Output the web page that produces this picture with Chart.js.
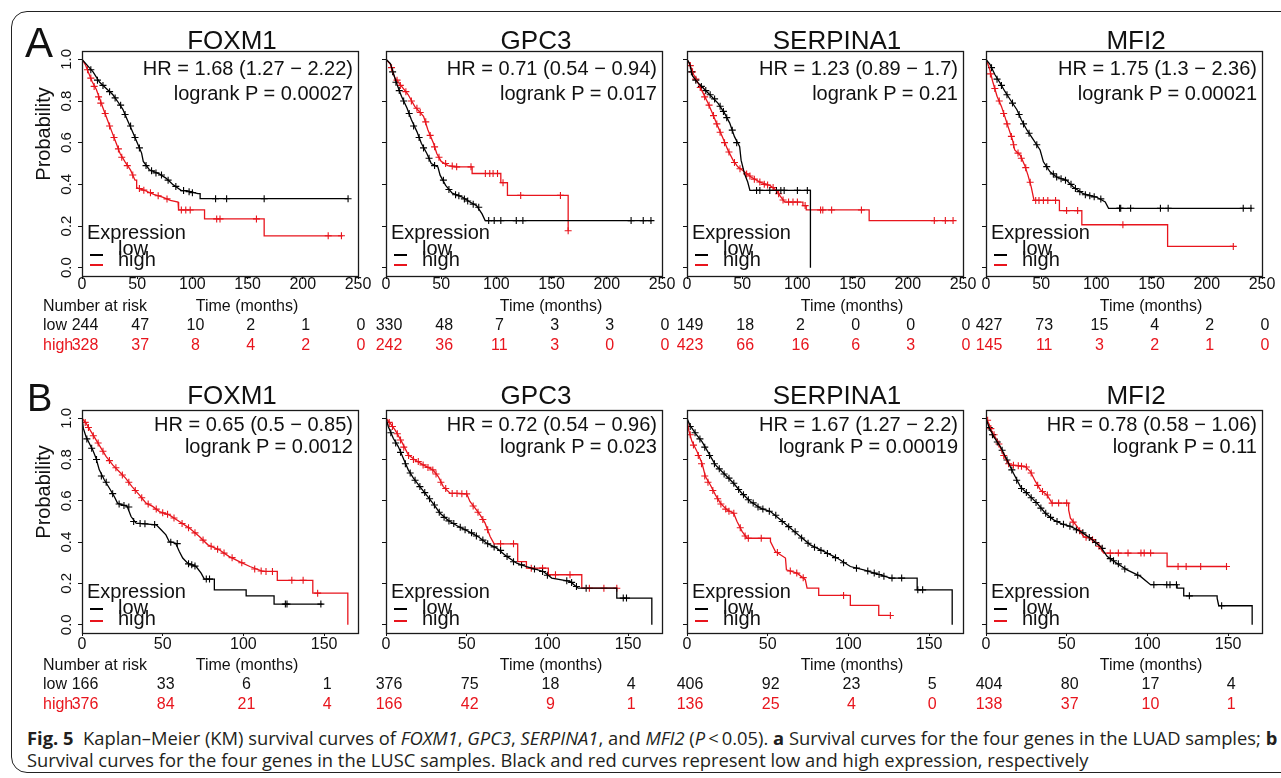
<!DOCTYPE html>
<html>
<head>
<meta charset="utf-8">
<script src="https://cdn.jsdelivr.net/npm/chart.js@4.4.0/dist/chart.umd.min.js"></script>
<style>
  body { margin: 0; background: #fff; }
  #fig { position: relative; width: 1281px; height: 778px; overflow: hidden;
         font-family: "Liberation Sans", Arial, sans-serif; color: #111; }
  #frame { position: absolute; left: 11px; top: 11px; width: 1320px; height: 762px;
           border: 1px solid #222; border-radius: 16px; box-sizing: border-box; }
  canvas { position: absolute; }
  .t { position: absolute; white-space: nowrap; line-height: 1; }
  #caption { position: absolute; left: 27px; top: 727px; font-family: "Open Sans", sans-serif;
             font-size: 18.35px; line-height: 22px; color: #231f20; white-space: nowrap; }
</style>
</head>
<body>
<div id="fig"><div id="frame"></div></div>
<script>
// ---- data: [time (months), survival probability] ----
// panel A (LUAD)
const aFoxm1Low = [[0,1],[10,0.94],[16,0.89],[22,0.86],[28,0.83],[32,0.80],[37,0.76],[41,0.71],[46,0.65],[50,0.60],[54,0.55],[55.5,0.51],[61,0.47],[70,0.45],[76,0.43],[82,0.40],[90,0.37],[95,0.37],[105,0.355],[107,0.355],[107,0.331],[241,0.331]];
const aFoxm1LowCens = [[8,0.95],[14,0.90],[19,0.875],[25,0.845],[30,0.815],[35,0.78],[39,0.735],[44,0.68],[48,0.625],[52,0.575],[58,0.49],[63,0.465],[67,0.455],[72,0.445],[78,0.42],[85,0.39],[92,0.37],[97,0.365],[100,0.36],[121,0.331],[131,0.331],[165,0.331],[241,0.331]];
const aFoxm1High = [[0,1],[3,0.975],[9,0.895],[13,0.855],[19,0.766],[23,0.71],[27,0.653],[31,0.597],[34.5,0.548],[39,0.508],[44,0.468],[48,0.42],[49.5,0.42],[49.5,0.384],[58,0.368],[65,0.352],[73,0.339],[80,0.323],[87,0.315],[87.5,0.277],[111,0.277],[111,0.234],[165,0.234],[165,0.153],[236,0.153]];
const aFoxm1HighCens = [[5,0.95],[8,0.91],[11,0.87],[15,0.82],[17,0.79],[21,0.74],[25,0.68],[29,0.625],[33,0.57],[36,0.53],[41,0.49],[46,0.445],[52,0.38],[56,0.372],[62,0.36],[69,0.345],[77,0.33],[90,0.277],[94,0.277],[98,0.277],[122,0.234],[125,0.234],[158,0.234],[223,0.153],[235,0.153]];

const aGpc3Low = [[0,1],[4,0.98],[7,0.927],[10,0.879],[14,0.823],[19,0.766],[23,0.71],[28,0.653],[32,0.597],[37,0.548],[41,0.5],[47,0.484],[49,0.444],[54,0.395],[60,0.358],[69,0.339],[76,0.315],[82,0.298],[87,0.258],[89.8,0.226],[241,0.226]];
const aGpc3LowCens = [[6,0.94],[9,0.89],[12,0.85],[16,0.8],[21,0.74],[25,0.68],[30,0.625],[34,0.575],[39,0.525],[44,0.49],[52,0.42],[57,0.375],[63,0.35],[66,0.345],[71,0.33],[74,0.32],[79,0.305],[84,0.29],[93,0.226],[98,0.226],[104,0.226],[118,0.226],[124,0.226],[222,0.226],[233,0.226],[240,0.226]];
const aGpc3High = [[0,1],[4,0.976],[8,0.911],[14,0.871],[20,0.831],[26,0.774],[34,0.726],[38,0.661],[43,0.597],[46,0.548],[50,0.51],[56,0.49],[63,0.484],[78,0.484],[78,0.452],[104,0.452],[104,0.408],[110,0.408],[110,0.347],[165,0.347],[165,0.177]];
const aGpc3HighCens = [[5,0.96],[10,0.9],[13,0.875],[18,0.845],[23,0.8],[28,0.765],[31,0.745],[36,0.7],[40,0.635],[44,0.58],[48,0.53],[54,0.5],[60,0.488],[64,0.484],[77,0.484],[90,0.452],[94,0.452],[97,0.452],[101,0.452],[106,0.408],[122,0.347],[158,0.347],[165,0.177]];

const aSerpLow = [[0,1],[2.4,0.98],[5,0.92],[10,0.887],[16,0.855],[22,0.823],[28,0.79],[34,0.742],[38.7,0.694],[43,0.629],[47.7,0.581],[49,0.516],[52,0.452],[55,0.411],[57,0.371],[111.8,0.371],[111.8,0]];
const aSerpLowCens = [[4,0.94],[8,0.9],[13,0.87],[17,0.85],[21,0.83],[25,0.81],[30,0.775],[33,0.75],[36,0.72],[41,0.66],[45,0.6],[63,0.371],[66,0.371],[75,0.371],[81,0.371],[85,0.371],[88,0.371],[100,0.371],[109,0.371]];
const aSerpHigh = [[0,1],[2.4,0.976],[6,0.927],[10,0.887],[14.5,0.839],[19,0.79],[23.6,0.734],[28,0.677],[32.6,0.621],[37,0.565],[41.7,0.516],[46,0.484],[52,0.46],[58,0.435],[66,0.411],[75,0.395],[81,0.371],[84,0.347],[88.5,0.315],[105,0.315],[105,0.298],[108,0.298],[108,0.277],[165,0.277],[165,0.226],[241,0.226]];
const aSerpHighCens = [[3,0.97],[5,0.94],[8,0.905],[12,0.865],[16,0.82],[20,0.78],[24,0.73],[27,0.69],[30,0.65],[34,0.6],[38,0.555],[43,0.505],[48,0.475],[54,0.45],[57,0.44],[61,0.425],[66,0.411],[70,0.40],[73,0.397],[78,0.385],[83,0.355],[87,0.325],[92,0.315],[96,0.315],[100,0.315],[107,0.298],[121,0.277],[123,0.277],[131,0.277],[158,0.277],[224,0.226],[234,0.226],[241,0.226]];

const aMfi2Low = [[0,1],[3.6,0.976],[8,0.927],[12.7,0.887],[17,0.847],[22,0.806],[28,0.758],[32,0.71],[37,0.661],[43,0.613],[49,0.565],[52,0.508],[58,0.46],[64,0.435],[73,0.419],[79,0.387],[88,0.355],[100,0.339],[108,0.315],[111,0.285],[241,0.285]];
const aMfi2LowCens = [[5,0.96],[10,0.905],[14,0.875],[19,0.83],[24,0.79],[30,0.735],[34,0.69],[39,0.645],[46,0.59],[55,0.485],[61,0.45],[64,0.435],[68,0.427],[72,0.42],[77,0.40],[81,0.38],[85,0.365],[90,0.35],[94,0.345],[98,0.34],[104,0.33],[121,0.285],[122,0.285],[131,0.285],[158,0.285],[165,0.285],[233,0.285],[240,0.285]];
const aMfi2High = [[0,1],[3,0.96],[6,0.895],[10,0.823],[14,0.774],[17,0.726],[20,0.677],[24,0.613],[26,0.565],[31,0.54],[35,0.492],[38,0.444],[41,0.387],[43.5,0.323],[66.5,0.323],[66.5,0.274],[86.8,0.274],[86.8,0.206],[164.5,0.206],[164.5,0.102],[224,0.102]];
const aMfi2HighCens = [[4,0.93],[8,0.86],[12,0.8],[16,0.74],[19,0.69],[23,0.63],[25,0.59],[29,0.55],[32,0.525],[36,0.48],[40,0.41],[45,0.323],[48,0.323],[52,0.323],[56,0.323],[63,0.323],[73,0.274],[83,0.274],[124,0.206],[224,0.102]];

// panel B (LUSC)
const bFoxm1Low = [[0,1],[0.8,0.952],[2.5,0.911],[4.5,0.879],[6.6,0.847],[8.7,0.806],[10.7,0.75],[13.8,0.702],[17,0.661],[20,0.621],[22,0.589],[28,0.573],[30.4,0.524],[33.5,0.492],[46,0.484],[49,0.46],[52,0.435],[54,0.403],[58,0.395],[60.3,0.355],[62.4,0.323],[65.5,0.298],[70.7,0.282],[73.8,0.25],[75.8,0.221],[82,0.221],[82,0.169],[101.7,0.169],[101.7,0.14],[119,0.14],[119,0.1],[149,0.1]];
const bFoxm1LowCens = [[3,0.9],[6,0.855],[9,0.8],[12,0.72],[15,0.69],[19,0.635],[23,0.585],[26,0.578],[29,0.57],[32,0.5],[36,0.49],[39,0.489],[45,0.485],[55,0.4],[59,0.393],[66,0.295],[68,0.29],[70,0.284],[77,0.221],[79,0.221],[126,0.1],[127,0.1],[148,0.1]];
const bFoxm1High = [[0,1],[2.5,0.976],[5.6,0.935],[8.7,0.895],[11.8,0.855],[14.9,0.815],[19,0.774],[23,0.742],[27,0.71],[31,0.669],[35.5,0.629],[39.7,0.589],[43.8,0.573],[48,0.548],[54,0.532],[60.3,0.5],[66.5,0.468],[72.7,0.427],[78,0.387],[85,0.363],[91,0.331],[97.5,0.306],[104,0.282],[112,0.258],[121,0.258],[121,0.215],[143,0.215],[143,0.153],[164.7,0.153],[164.7,0]];
const bFoxm1HighCens = [[2,0.98],[4,0.955],[7,0.915],[10,0.88],[13,0.84],[17,0.795],[21,0.76],[25,0.725],[29,0.69],[33,0.65],[37,0.615],[41,0.585],[46,0.56],[50,0.542],[53,0.535],[57,0.517],[62,0.49],[66,0.47],[70,0.445],[75,0.41],[80,0.38],[84,0.366],[88,0.347],[93,0.325],[99,0.3],[107,0.27],[111,0.26],[114,0.258],[118,0.258],[130,0.215],[137,0.215],[146,0.153]];

const bGpc3Low = [[0,1],[1.4,0.96],[4.5,0.903],[7.6,0.863],[10.7,0.806],[13.8,0.75],[17,0.71],[21,0.669],[25,0.629],[29,0.589],[33.5,0.54],[38.6,0.505],[44.8,0.476],[51,0.452],[57,0.427],[62.4,0.395],[68.6,0.371],[74.8,0.331],[81,0.298],[87,0.282],[97.5,0.258],[102.7,0.226],[114,0.21],[119,0.177],[143,0.177],[143,0.129],[164.7,0.129],[164.7,0]];
const bGpc3LowCens = [[3,0.93],[6,0.88],[9,0.835],[12,0.78],[15,0.735],[18,0.7],[21,0.669],[24,0.64],[27,0.61],[30,0.58],[33,0.545],[36,0.52],[39,0.503],[42,0.49],[46,0.472],[49,0.46],[53,0.445],[56,0.43],[60,0.41],[63,0.392],[67,0.377],[71,0.36],[75,0.331],[79,0.305],[84,0.29],[92,0.27],[97,0.258],[100,0.24],[112,0.213],[115,0.205],[118,0.185],[124,0.177],[147,0.129],[149,0.129]];
const bGpc3High = [[0,1],[2.5,0.976],[5.6,0.944],[9.7,0.887],[13.8,0.823],[18,0.798],[23,0.774],[29,0.75],[32.4,0.718],[35.5,0.669],[39.7,0.637],[50,0.634],[52,0.597],[55.2,0.565],[58.3,0.532],[61.4,0.492],[64.5,0.427],[67,0.392],[81.6,0.392],[81.6,0.306],[87,0.306],[87,0.274],[100.6,0.274],[100.6,0.242],[121.3,0.242],[121.3,0.177],[143,0.177]];
const bGpc3HighCens = [[2,0.98],[4,0.96],[7,0.925],[9,0.895],[11,0.86],[14,0.82],[17,0.8],[20,0.79],[23,0.774],[26,0.762],[29,0.75],[31,0.73],[34,0.69],[37,0.66],[41,0.636],[44,0.636],[47,0.635],[50,0.634],[54,0.575],[57,0.545],[60,0.51],[63,0.46],[71,0.392],[79,0.392],[90,0.274],[97,0.274],[105,0.242],[114,0.242],[126,0.177],[135,0.177],[143,0.177]];

const bSerpLow = [[0,1],[1.7,0.968],[5.2,0.927],[9.3,0.887],[13.4,0.831],[17.6,0.774],[22.7,0.734],[28.9,0.685],[34,0.637],[39.3,0.597],[45.5,0.565],[51.7,0.548],[57.9,0.508],[64,0.468],[70.2,0.427],[76.4,0.387],[84.7,0.355],[93,0.323],[101.2,0.282],[109.5,0.266],[119.8,0.242],[126,0.226],[142.6,0.226],[142.6,0.169],[164.3,0.169],[164.3,0]];
const bSerpLowCens = [[2,0.96],[5,0.93],[8,0.9],[11,0.86],[14,0.82],[17,0.78],[20,0.755],[23,0.73],[26,0.71],[29,0.685],[32,0.655],[35,0.63],[38,0.605],[41,0.59],[44,0.57],[47,0.56],[51,0.55],[55,0.53],[59,0.5],[63,0.475],[67,0.45],[71,0.42],[75,0.395],[79,0.375],[83,0.36],[87,0.345],[92,0.325],[97,0.3],[105,0.274],[112,0.26],[116,0.25],[119,0.243],[122,0.235],[127,0.226],[133,0.226],[143,0.169],[146,0.169]];
const bSerpHigh = [[0,1],[1,0.944],[3.1,0.887],[6.2,0.839],[9.3,0.782],[11.4,0.718],[14.5,0.677],[17.6,0.629],[20.7,0.589],[24.8,0.556],[28.9,0.54],[31,0.5],[34.1,0.452],[37.2,0.419],[51.7,0.419],[51.7,0.403],[54.8,0.355],[61,0.323],[61.6,0.266],[68.2,0.25],[73.3,0.218],[74.4,0.177],[81.6,0.177],[81.6,0.142],[101.2,0.142],[101.2,0.094],[118.8,0.094],[118.8,0.045],[125.6,0.045]];
const bSerpHighCens = [[2,0.92],[4,0.87],[7,0.82],[9,0.78],[11,0.72],[13,0.69],[16,0.65],[19,0.61],[21,0.585],[24,0.56],[26,0.55],[29,0.54],[33,0.47],[36,0.43],[38,0.419],[46,0.419],[56,0.35],[64,0.26],[68,0.25],[72,0.228],[97,0.142],[126,0.045]];

const bMfi2Low = [[0,1],[1.7,0.96],[4.8,0.911],[8.9,0.863],[13,0.798],[17,0.734],[21.3,0.669],[26.4,0.629],[31.6,0.589],[36.8,0.54],[41.9,0.508],[47,0.489],[52.3,0.476],[58.5,0.452],[64.7,0.419],[70.9,0.379],[75,0.331],[81,0.298],[87.4,0.266],[95.7,0.234],[101.9,0.194],[118.4,0.194],[118.4,0.177],[122.5,0.177],[122.5,0.14],[143.2,0.14],[143.2,0.129],[144.2,0.092],[164.9,0.092],[164.9,0]];
const bMfi2LowCens = [[2,0.955],[4,0.92],[7,0.885],[10,0.845],[13,0.798],[16,0.75],[19,0.7],[22,0.66],[25,0.64],[28,0.615],[31,0.592],[34,0.565],[37,0.54],[40,0.52],[44,0.5],[48,0.487],[52,0.477],[56,0.46],[60,0.445],[64,0.422],[68,0.398],[72,0.37],[77,0.32],[79,0.31],[82,0.295],[86,0.27],[94,0.24],[104,0.194],[112,0.194],[114,0.194],[118,0.194],[126,0.14],[146,0.092]];
const bMfi2High = [[0,1],[1.7,0.976],[3.7,0.935],[6.8,0.895],[9.9,0.839],[13,0.79],[15.1,0.774],[24.4,0.766],[27.5,0.742],[30.6,0.694],[33.7,0.653],[37.8,0.629],[40.9,0.589],[51.2,0.589],[51.2,0.556],[52.3,0.516],[56.4,0.476],[60.5,0.427],[64.7,0.419],[68.8,0.395],[72.9,0.347],[112.2,0.347],[112.2,0.282],[149.4,0.282]];
const bMfi2HighCens = [[1,0.99],[3,0.95],[5,0.92],[8,0.875],[11,0.82],[14,0.78],[17,0.772],[20,0.77],[22,0.768],[25,0.764],[28,0.735],[32,0.675],[35,0.645],[38,0.628],[41,0.589],[45,0.589],[50,0.589],[54,0.497],[58,0.455],[62,0.424],[66,0.412],[70,0.38],[77,0.347],[82,0.347],[88,0.347],[96,0.347],[98,0.347],[102,0.347],[119,0.282],[124,0.282],[133,0.282],[149,0.282]];

// labels, tick values, numbers at risk
const genes = ['FOXM1', 'GPC3', 'SERPINA1', 'MFI2'];
const hrA = ['HR = 1.68 (1.27 \u2212 2.22)', 'HR = 0.71 (0.54 \u2212 0.94)', 'HR = 1.23 (0.89 \u2212 1.7)', 'HR = 1.75 (1.3 \u2212 2.36)'];
const pA = ['logrank P = 0.00027', 'logrank P = 0.017', 'logrank P = 0.21', 'logrank P = 0.00021'];
const hrB = ['HR = 0.65 (0.5 \u2212 0.85)', 'HR = 0.72 (0.54 \u2212 0.96)', 'HR = 1.67 (1.27 \u2212 2.2)', 'HR = 0.78 (0.58 \u2212 1.06)'];
const pB = ['logrank P = 0.0012', 'logrank P = 0.023', 'logrank P = 0.00019', 'logrank P = 0.11'];
const xTicksA = [0, 50, 100, 150, 200, 250];
const xTicksB = [0, 50, 100, 150];
const yTicks = [0, 0.2, 0.4, 0.6, 0.8, 1.0];
const riskLowA = [[244,47,10,2,1,0], [330,48,7,3,3,0], [149,18,2,0,0,0], [427,73,15,4,2,0]];
const riskHighA = [[328,37,8,4,2,0], [242,36,11,3,0,0], [423,66,16,6,3,0], [145,11,3,2,1,0]];
const riskLowB = [[166,33,6,1], [376,75,18,4], [406,92,23,5], [404,80,17,4]];
const riskHighB = [[376,84,21,4], [166,42,9,1], [136,25,4,0], [138,37,10,1]];

const curvesA = [[aFoxm1Low, aFoxm1LowCens, aFoxm1High, aFoxm1HighCens],
                 [aGpc3Low, aGpc3LowCens, aGpc3High, aGpc3HighCens],
                 [aSerpLow, aSerpLowCens, aSerpHigh, aSerpHighCens],
                 [aMfi2Low, aMfi2LowCens, aMfi2High, aMfi2HighCens]];
const curvesB = [[bFoxm1Low, bFoxm1LowCens, bFoxm1High, bFoxm1HighCens],
                 [bGpc3Low, bGpc3LowCens, bGpc3High, bGpc3HighCens],
                 [bSerpLow, bSerpLowCens, bSerpHigh, bSerpHighCens],
                 [bMfi2Low, bMfi2LowCens, bMfi2High, bMfi2HighCens]];

// ---- layout ----
const FONT = '"Liberation Sans", Arial, sans-serif';
const RED = '#e8151d';
const BLACK = '#000';
const fig = document.getElementById('fig');
const boxL = [82, 386, 687, 986];
const boxW = 276;
const rows = [
  { top: 51,  h: 225, xmax: 250, ticks: xTicksA, labOff: 9,  titleY: 40,  hr: hrA, p: pA, hrDy: 17, pDy: 42,
    riskY: [306, 325, 345], low: riskLowA, high: riskHighA, curves: curvesA, probY: 134 },
  { top: 410, h: 223, xmax: 171, ticks: xTicksB, labOff: 12, titleY: 395, hr: hrB, p: pB, hrDy: 14, pDy: 36,
    riskY: [665, 684, 704], low: riskLowB, high: riskHighB, curves: curvesB, probY: 492 }
];
const PADL = 30, PADT = 6, PADR = 24, XH = 28;

function put(txt, x, y, size, align, color) {
  const d = document.createElement('div');
  d.className = 't';
  d.textContent = txt;
  d.style.left = x + 'px';
  d.style.top = y + 'px';
  d.style.fontSize = size + 'px';
  const tx = align === 'center' ? '-50%' : align === 'right' ? '-100%' : '0';
  d.style.transform = 'translate(' + tx + ',-50%)';
  if (color) d.style.color = color;
  fig.appendChild(d);
  return d;
}

function seg(x, y, w, color) {
  const d = document.createElement('div');
  d.style.cssText = 'position:absolute;left:' + x + 'px;top:' + (y - 0.75) + 'px;width:' + w +
    'px;height:1.5px;background:' + color;
  fig.appendChild(d);
}

const pts = arr => arr.map(p => ({ x: p[0], y: p[1] }));

// box round the plot region + rotated y tick labels (first column only)
const boxPlugin = {
  id: 'kmBox',
  afterDraw(chart, args, opts) {
    const { ctx, chartArea: a } = chart;
    ctx.save();
    ctx.strokeStyle = '#1a1a1a';
    ctx.lineWidth = 1.3;
    ctx.strokeRect(Math.round(a.left) + 0.5, Math.round(a.top) + 0.5,
                   Math.round(a.right - a.left), Math.round(a.bottom - a.top));
    if (opts.yLabels) {
      const ys = chart.scales.y;
      ctx.fillStyle = '#111';
      ctx.font = '15px ' + FONT;
      ctx.textAlign = 'center';
      ctx.textBaseline = 'middle';
      yTicks.forEach(v => {
        ctx.save();
        ctx.translate(a.left - 15, ys.getPixelForValue(v));
        ctx.rotate(-Math.PI / 2);
        ctx.fillText(v.toFixed(1), 0, 0);
        ctx.restore();
      });
    }
    ctx.restore();
  }
};

rows.forEach((row, r) => {
  genes.forEach((gene, c) => {
    const [low, lowC, high, highC] = row.curves[c];
    const canvas = document.createElement('canvas');
    canvas.width = PADL + boxW + PADR;
    canvas.height = PADT + row.h + XH;
    const cl = boxL[c] - PADL, ct = row.top - PADT;
    canvas.style.left = cl + 'px';
    canvas.style.top = ct + 'px';
    fig.appendChild(canvas);

    const lineDs = (d, col) => ({ data: pts(d), showLine: true, borderColor: col, borderWidth: 1.3,
                                  pointRadius: 0, pointHoverRadius: 0, fill: false });
    const censDs = (d, col) => ({ data: pts(d), showLine: false, pointStyle: 'cross', pointRadius: 3.5,
                                  pointBorderColor: col, pointBorderWidth: 1.1, borderColor: col });

    const chart = new Chart(canvas, {
      type: 'scatter',
      data: { datasets: [lineDs(low, BLACK), lineDs(high, RED), censDs(lowC, BLACK), censDs(highC, RED)] },
      options: {
        responsive: false,
        animation: false,
        events: [],
        layout: { padding: { left: 0, right: PADR, top: PADT, bottom: 0 } },
        plugins: { legend: { display: false }, tooltip: { enabled: false }, kmBox: { yLabels: c === 0 } },
        scales: {
          x: {
            type: 'linear', min: 0, max: row.xmax,
            afterBuildTicks: s => { s.ticks = row.ticks.map(v => ({ value: v })); },
            afterFit: s => { s.height = XH; },
            border: { display: false },
            grid: { drawOnChartArea: false, drawTicks: true, tickLength: 3, color: '#111' },
            ticks: { color: '#111', font: { family: FONT, size: 16, lineHeight: 1 },
                     padding: row.labOff - 11, maxRotation: 0, autoSkip: false }
          },
          y: {
            min: -0.04, max: 1.04,
            afterBuildTicks: s => { s.ticks = yTicks.map(v => ({ value: v })); },
            afterFit: s => { s.width = PADL; },
            border: { display: false },
            grid: { drawOnChartArea: false, drawTicks: true, tickLength: 4, color: '#111' },
            ticks: { display: false }
          }
        }
      },
      plugins: [boxPlugin]
    });

    const L = boxL[c], R = L + boxW, T = row.top;
    put(gene, L + 150, row.titleY, 26, 'center');
    put(row.hr[c], R - 5, T + row.hrDy, 20, 'right');
    put(row.p[c], R - 5, T + row.pDy, 20, 'right');

    // legend
    put('Expression', L + 5, T + 181, 20, 'left');
    put('low', L + 36, T + 197, 20, 'left');
    put('high', L + 36, T + 208, 20, 'left');
    seg(L + 8, T + (r === 0 ? 204 : 199), 13, BLACK);
    seg(L + 8, T + (r === 0 ? 214 : 211), 13, RED);

    // x title + numbers at risk
    put('Time (months)', L + 165, row.riskY[0], 16, 'center');
    const xs = chart.scales.x;
    row.ticks.forEach((t, k) => {
      const px = cl + xs.getPixelForValue(t) + 3;
      put(String(row.low[c][k]), px, row.riskY[1], 16, 'center');
      put(String(row.high[c][k]), px, row.riskY[2], 16, 'center', RED);
    });
    if (c === 0) {
      put('Number at risk', 43, row.riskY[0], 16, 'left');
      put('low', 43, row.riskY[1], 16, 'left');
      put('high', 43, row.riskY[2], 16, 'left', RED);
      const pr = put('Probability', 43, row.probY, 20, 'center');
      pr.style.transform = 'translate(-50%,-50%) rotate(-90deg)';
    }
  });
});

put('A', 25, 43, 42, 'left');
put('B', 27, 398, 38, 'left');

const cap = document.createElement('div');
cap.id = 'caption';
cap.innerHTML = '<b>Fig. 5</b>&nbsp; Kaplan\u2013Meier (KM) survival curves of <i>FOXM1</i>, <i>GPC3</i>, ' +
  '<i>SERPINA1</i>, and <i>MFI2</i> (<i>P</i>&thinsp;&lt;&thinsp;0.05). <b>a</b> Survival curves for the four genes ' +
  'in the LUAD samples; <b>b</b><br>Survival curves for the four genes in the LUSC samples. Black and red curves ' +
  'represent low and high expression, respectively';
fig.appendChild(cap);
</script>
</body>
</html>
